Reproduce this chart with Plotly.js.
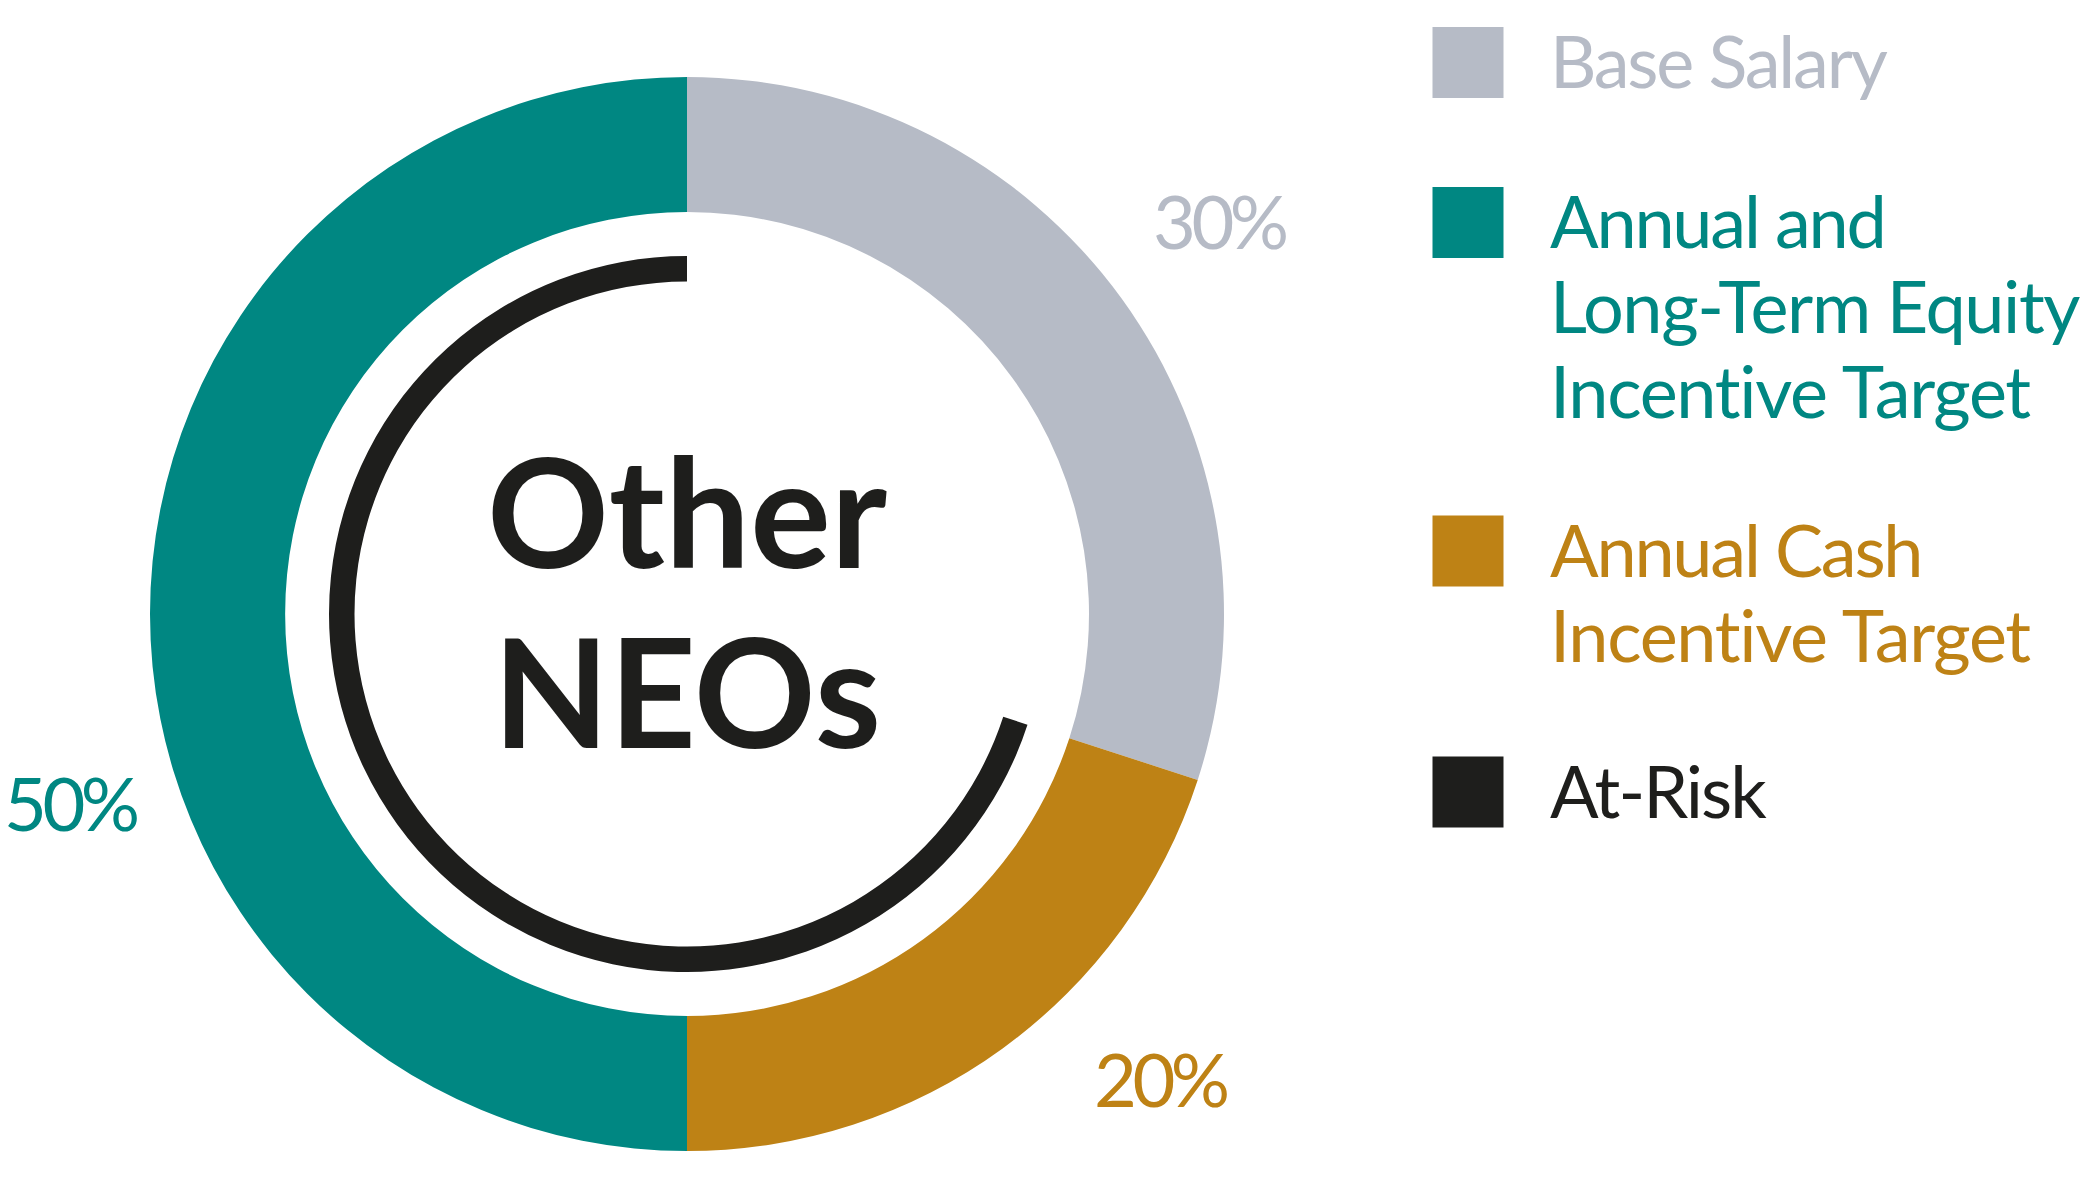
<!DOCTYPE html>
<html>
<head>
<meta charset="utf-8">
<script src="https://cdn.plot.ly/plotly-3.0.1.min.js"></script>
<style>
  html, body { margin: 0; padding: 0; background: #ffffff; }
  #chart { width: 2094px; height: 1183px; }
</style>
</head>
<body>
<div id="chart"></div>
<script>
// ---- data ----
const categories = ['Base Salary', 'Annual and Long-Term Equity Incentive Target', 'Annual Cash Incentive Target'];
const shareValues = [30, 50, 20];
const sliceColors = ['#B6BBC6', '#008782', '#BE8215'];

const atRiskLabels = ['Fixed', 'At-Risk'];
const atRiskValues = [30, 70];
const atRiskColors = ['rgba(0,0,0,0)', '#1E1E1C'];

const legendLabels = ['Base Salary', 'Annual and<br>Long-Term Equity<br>Incentive Target', 'Annual Cash<br>Incentive Target', 'At-Risk'];
const legendColors = ['#B6BBC6', '#008782', '#BE8215', '#1E1E1C'];

const centerTitle = ['Other', 'NEOs'];

// ---- layout helpers ----
const W = 2094, H = 1183;
const cx = 687, cy = 614;            // donut centre (px from top-left)
const rOuter = 537, rInner = 402;    // outer ring
const rArcOut = 358, rArcIn = 332.5; // at-risk arc
const FONT = 'Lato, "Open Sans", sans-serif';

function px2x(x) { return x / W; }
function px2y(y) { return 1 - y / H; }
function domainFor(r) {
  return {
    x: [px2x(cx - r), px2x(cx + r)],
    y: [px2y(cy + r), px2y(cy - r)]
  };
}

const traces = [
  {
    type: 'pie',
    labels: categories,
    values: shareValues,
    marker: { colors: sliceColors, line: { width: 0 } },
    hole: rInner / rOuter,
    sort: false,
    direction: 'counterclockwise',
    rotation: 0,
    textinfo: 'none',
    hoverinfo: 'none',
    showlegend: false,
    domain: domainFor(rOuter)
  },
  {
    type: 'pie',
    labels: atRiskLabels,
    values: atRiskValues,
    marker: { colors: atRiskColors, line: { width: 0 } },
    hole: rArcIn / rArcOut,
    sort: false,
    direction: 'clockwise',
    rotation: 0,
    textinfo: 'none',
    hoverinfo: 'none',
    showlegend: false,
    domain: domainFor(rArcOut)
  }
];

const annotations = [];
const shapes = [];

// text placed by baseline (px from top); Lato centre offset ~0.387em
function addText(txt, x, baseline, size, color, xanchor, weight, spacing) {
  const content = spacing ? '<span style="letter-spacing:' + spacing + 'px">' + txt + '</span>' : txt;
  annotations.push({
    text: content,
    x: px2x(x), y: px2y(baseline - 0.387 * size),
    xref: 'paper', yref: 'paper',
    xanchor: xanchor, yanchor: 'middle',
    showarrow: false, borderpad: 0,
    font: { family: FONT, size: size, color: color, weight: weight || 400 }
  });
}

// percentage labels
const pctPos = [[1220, 249], [71, 831], [1161, 1107]];
shareValues.forEach((v, i) => {
  addText(v + '%', pctPos[i][0], pctPos[i][1], 74, sliceColors[i], 'center', 400, -4.5);
});

// centre title
const titleBase = [567.7, 747.7];
centerTitle.forEach((t, i) => addText(t, cx, titleBase[i], 151, '#1E1E1C', 'center', 700));

// legend
const legendFirstBase = [88.3, 248.3, 576.7, 817.7];
const lineSpacing = [[-2.2], [-2.2, -1.4, -1.3], [-2.2, -1.3], [-2.0]];
const lineGap = 84.8, sq = 71, sqLeft = 1432.5, txtLeft = 1549;
legendLabels.forEach((lab, i) => {
  const top = legendFirstBase[i] - 61.3;
  shapes.push({
    type: 'rect', xref: 'paper', yref: 'paper',
    x0: px2x(sqLeft), x1: px2x(sqLeft + sq),
    y0: px2y(top + sq), y1: px2y(top),
    fillcolor: legendColors[i], line: { width: 0 }
  });
  lab.split('<br>').forEach((line, j) => {
    addText(line, txtLeft, legendFirstBase[i] + j * lineGap, 72, legendColors[i], 'left', 400, lineSpacing[i][j]);
  });
});

const layout = {
  width: W, height: H,
  margin: { l: 0, r: 0, t: 0, b: 0, pad: 0 },
  paper_bgcolor: '#ffffff',
  plot_bgcolor: '#ffffff',
  showlegend: false,
  annotations: annotations,
  shapes: shapes
};

Plotly.newPlot('chart', traces, layout, { staticPlot: true, displayModeBar: false });
</script>
</body>
</html>
